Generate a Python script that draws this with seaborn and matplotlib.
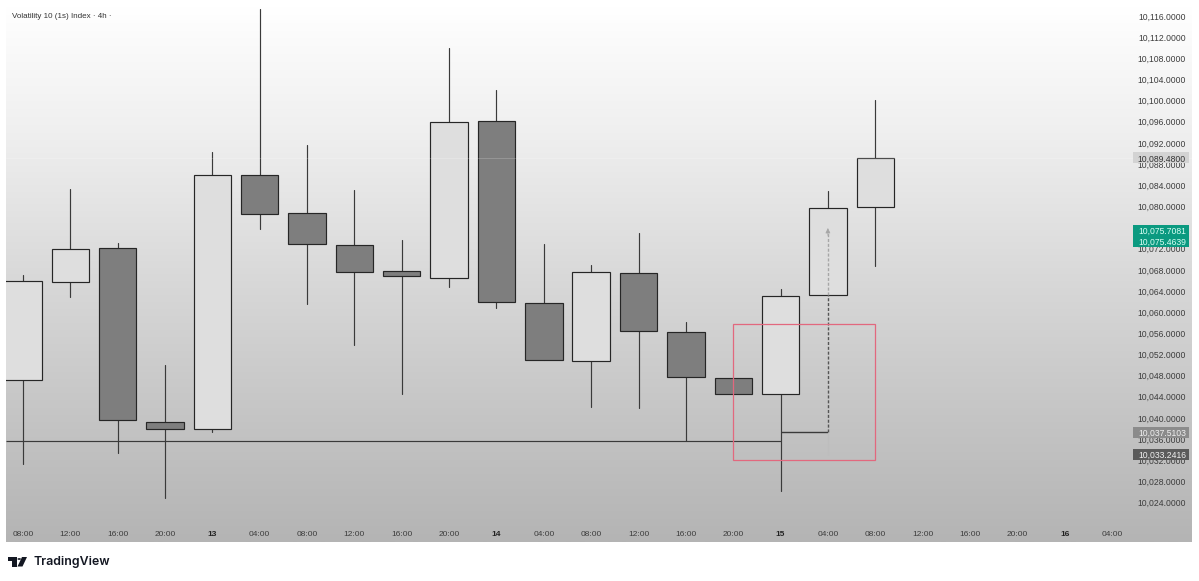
import numpy as np
import pandas as pd
import seaborn as sns
import matplotlib
matplotlib.use("Agg")
import matplotlib.pyplot as plt
from matplotlib.patches import Polygon, Circle, Rectangle
from matplotlib.colors import LinearSegmentedColormap
from matplotlib.transforms import blended_transform_factory

# ---------- data ----------
opens = [10047.16, 10065.70, 10072.13, 10039.22, 10037.90, 10085.93, 10078.75, 10072.69, 10067.78, 10066.45,
         10096.14, 10061.73, 10050.76, 10067.40, 10056.24, 10047.54, 10044.52, 10063.24, 10079.88]
closes = [10065.89, 10071.94, 10039.60, 10037.90, 10085.93, 10078.56, 10072.88, 10067.59, 10066.83, 10095.95,
          10061.92, 10050.95, 10067.59, 10056.43, 10047.73, 10044.52, 10063.05, 10079.69, 10089.15]
highs = [10067.02, 10083.28, 10073.07, 10050.00, 10090.28, 10117.32, 10091.61, 10083.10, 10073.64, 10109.95,
         10102.01, 10072.88, 10068.91, 10074.96, 10058.13, 10047.54, 10064.37, 10082.91, 10100.12]
lows = [10031.28, 10062.86, 10033.36, 10024.85, 10037.33, 10075.72, 10061.54, 10053.78, 10044.52, 10064.75,
        10060.78, 10050.95, 10042.06, 10041.87, 10035.63, 10044.52, 10026.17, 10063.24, 10068.72]
time_labels = ["08:00", "12:00", "16:00", "20:00", "13", "04:00", "08:00", "12:00", "16:00", "20:00", "14", "04:00",
               "08:00", "12:00", "16:00", "20:00", "15", "04:00", "08:00", "12:00", "16:00", "20:00", "16", "04:00"]
price_ticks = [10116, 10112, 10108, 10104, 10100, 10096, 10092, 10088, 10084, 10080, 10072, 10068, 10064, 10060,
               10056, 10052, 10048, 10044, 10040, 10036, 10032, 10028, 10024]
support_level = 10035.63
entry_level = 10037.36
target_level = 10075.30
last_close = 10089.15
stop_level = 10033.07
zone_top = 10057.75
zone_bottom = 10032.03
price_tags = [("10,089.4800", 10089.15, "#d3d3d3", "#333333"),
              ("10,075.7081", 10075.44, "#0b9a80", "#d8fff4"),
              ("10,075.4639", 10073.36, "#0b9a80", "#d8fff4"),
              ("10,037.5103", 10037.33, "#8b8b8b", "#f0f0f0"),
              ("10,033.2416", 10033.07, "#5b5b5b", "#f0f0f0")]

# ---------- set up ----------
sns.set_theme(style="white")
plt.rcParams["font.family"] = ["Liberation Sans", "DejaVu Sans"]
W, H = 1199, 581
fig = plt.figure(figsize=(W / 100, H / 100), dpi=100, facecolor="white")
ax = fig.add_axes([6 / W, 1 - 542 / H, (1192 - 6) / W, (542 - 6) / H])

df = pd.DataFrame({"idx": range(len(opens)), "open": opens, "close": closes, "high": highs, "low": lows})
df["up"] = df["close"] >= df["open"]
wicks = df.melt(id_vars="idx", value_vars=["high", "low"], value_name="price")

# gradient background
cmap = LinearSegmentedColormap.from_list("bg", ["#ffffff", "#eeeeee", "#d9d9d9", "#c6c6c6", "#b4b4b4"])
ax.imshow(np.linspace(0, 1, 256)[:, None], extent=(0, 1, 0, 1), transform=ax.transAxes,
          cmap=cmap, aspect="auto", zorder=0)

# wicks
sns.lineplot(data=wicks, x="idx", y="price", units="idx", estimator=None, color="#3a3a3a",
             linewidth=0.85, legend=False, ax=ax, zorder=2, sort=False)

# bodies
body_colors = ["#dedede" if u else "#7e7e7e" for u in df["up"]]
ax.bar(df["idx"], (df["close"] - df["open"]).abs(), bottom=df[["open", "close"]].min(axis=1), width=0.79,
       color=body_colors, edgecolor="#262626", linewidth=0.85, zorder=3)

ax.set_xlim(-0.359, 24.69)
ax.set_ylim(10016.53, 10117.89)

# annotation lines
dash = (0, (2.2, 1.3))
ax.axhline(last_close, color="#ffffff", alpha=0.22, linewidth=0.6, zorder=4)
ax.hlines(support_level, -0.359, 16, color="#3a3a3a", linewidth=0.85, zorder=2)
ax.hlines(entry_level, 16, 17, color="#3a3a3a", linewidth=1.0, zorder=4)
ax.vlines(17, df.loc[17, "open"], target_level, color="#a6a6a6", linewidth=1.0, linestyles=dash, zorder=3.5)
ax.vlines(17, entry_level, df.loc[17, "open"], color="#555555", linewidth=1.0, linestyles=dash, zorder=3.6)
ax.vlines(17, stop_level, entry_level, color="#bdbdbd", linewidth=0.8, zorder=4)
ax.annotate("", xy=(17, target_level + 0.6), xytext=(17, target_level - 0.8),
            arrowprops=dict(arrowstyle="-|>,head_width=0.12,head_length=0.25", color="#a6a6a6", lw=0.5,
                            shrinkA=0, shrinkB=0), zorder=4)
ax.add_patch(Rectangle((15, zone_bottom), 3, zone_top - zone_bottom, fill=False, edgecolor="#e2687e",
                       linewidth=0.9, zorder=5))

# axes
ax.yaxis.tick_right()
ax.set_yticks(price_ticks)
ax.set_yticklabels([f"{v:,.4f}" for v in price_ticks], ha="right", color="#3d3d3d", fontsize=6.2)
ax.tick_params(axis="y", length=0, pad=-4.5)
ax.set_xticks(range(len(time_labels)))
ax.set_xticklabels(time_labels, color="#3d3d3d", fontsize=6.05, va="bottom")
for lbl, txt in zip(ax.get_xticklabels(), time_labels):
    if ":" not in txt:
        lbl.set_fontweight("bold")
        lbl.set_color("#222222")
ax.tick_params(axis="x", length=0, pad=-3)
ax.set_xlabel("")
ax.set_ylabel("")
for s in ax.spines.values():
    s.set_visible(False)

# price tags on the scale
tr = blended_transform_factory(ax.transAxes, ax.transData)
x0 = (1133 - 6) / (1192 - 6)
x1 = (1189 - 6) / (1192 - 6)
tag_half = 1.04
for label, val, bg, fg in price_tags:
    ax.add_patch(Rectangle((x0, val - tag_half), x1 - x0, 2 * tag_half, transform=tr, facecolor=bg,
                           edgecolor="none", zorder=6, clip_on=False))
for label, val, bg, fg in price_tags:
    ax.text((1186 - 6) / (1192 - 6), val, label, transform=tr, ha="right", va="center_baseline", color=fg,
            fontsize=6.2, zorder=7)

# title and footer
fig.text(12 / W, 1 - 17 / H, "Volatility 10 (1s) Index · 4h ·", fontsize=5.8, color="#333333", va="center", ha="left")
fig.text(33 / W, 1 - 562 / H, "TradingView", fontsize=8.9, fontweight="semibold", family=["Inter", "DejaVu Sans"],
         color="#131722", va="center", ha="left")

def px(p):
    return [(x / W, 1 - y / H) for x, y in p]

fig.add_artist(Polygon(px([(8, 557), (17, 557), (17, 566.5), (12.5, 566.5), (12.5, 561), (8, 561)]), closed=True,
                       transform=fig.transFigure, facecolor="#131722", edgecolor="none"))
fig.add_artist(Polygon(px([(22, 557), (27, 557), (22.5, 566.5), (17.5, 566.5)]), closed=True,
                       transform=fig.transFigure, facecolor="#131722", edgecolor="none"))
fig.add_artist(Circle((19.2 / W, 1 - 559 / H), 1.8 / W, transform=fig.transFigure, facecolor="#131722",
                      edgecolor="none"))

fig.savefig("out.png", dpi=100, facecolor="white")
